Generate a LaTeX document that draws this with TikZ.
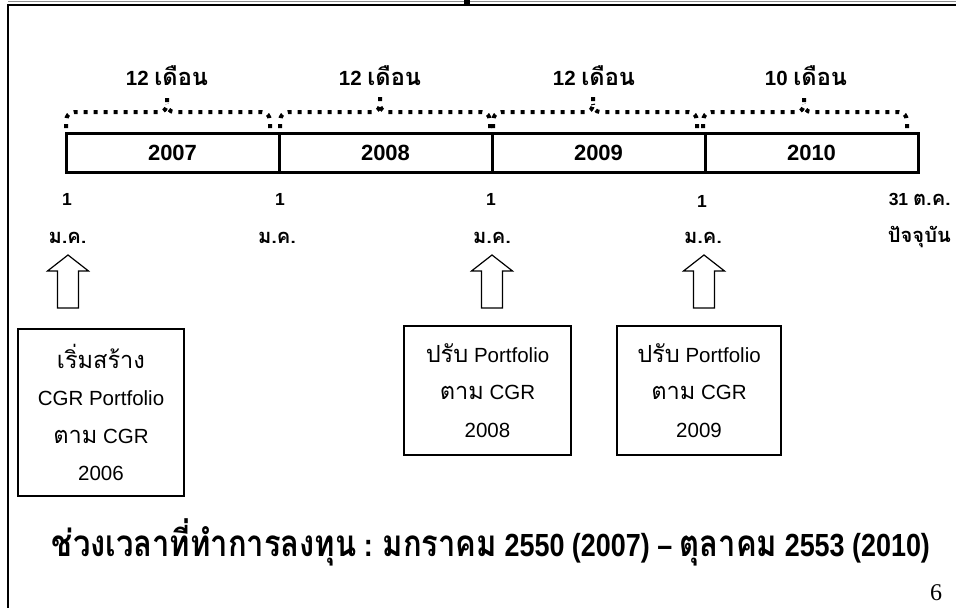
\documentclass[tikz,border=0pt]{standalone}
\usepackage{fontspec}
\setmainfont{Liberation Sans}
\newfontfamily\thaifont[Script=Thai,Scale=1.15]{Loma}
\newfontfamily\pgserif{Liberation Serif}
\newcommand\thx[1]{{\thaifont #1}}
\tikzset{
  yearcell/.style={draw, line width=3pt, minimum width=213pt, minimum height=39pt, inner sep=0pt,
    font=\fontsize{22}{26}\selectfont\bfseries},
  monthlbl/.style={anchor=base, inner sep=0pt, font=\fontsize{20.5}{24}\selectfont\bfseries},
  datelbl/.style={anchor=base, inner sep=0pt, font=\fontsize{17.5}{20}\selectfont\bfseries},
  dotbrace/.style={line width=4pt, dash pattern=on 4pt off 6pt},
  infobox/.style={draw, line width=2.5pt, align=center, inner sep=0pt,
    font=\fontsize{20.5}{37.5}\selectfont},
  hollowarrow/.style={draw, line width=1.2pt, fill=white}
}
\newcommand\uparr[2]{\draw[hollowarrow] (#1,#2) -- ++(-20.5,16) -- ++(10,0) -- ++(0,37) -- ++(21,0) -- ++(0,-37) -- ++(10,0) -- cycle;}
% brace: left end, tip x, right end
\newcommand\dbrace[3]{\draw[dotbrace] (#1,128) -- (#1,121) to[out=90,in=180] (#1+8,112) -- (#2-7,112) to[out=0,in=-90] (#2,104) -- (#2,93);
  \draw[dotbrace] (#3,128) -- (#3,121) to[out=90,in=0] (#3-8,112) -- (#2+7,112) to[out=180,in=-90] (#2,104);}
\begin{document}
\begin{tikzpicture}[x=1pt,y=-1pt]
\useasboundingbox (0,0) rectangle (956,608);
% frame
\draw[line width=0.8pt, black!45] (8,1) -- (956,1);
\draw[line width=2.5pt] (8,5) -- (956,5);
\draw[line width=2.5pt] (8,4) -- (8,608);
\fill (464,0) rectangle (470,6);
% year bar
\node[yearcell] (y1) at (172.5,153) {2007};
\node[yearcell] (y2) at (385.5,153) {2008};
\node[yearcell] (y3) at (598.5,153) {2009};
\node[yearcell] (y4) at (811.5,153) {2010};
% braces
\dbrace{66}{167}{270}
\dbrace{280}{380}{490}
\dbrace{493}{593}{697}
\dbrace{703}{804}{907}
\node[monthlbl] (m1) at (167,85) {12 \thx{เดือน}};
\node[monthlbl] (m2) at (380,85) {12 \thx{เดือน}};
\node[monthlbl] (m3) at (594,85) {12 \thx{เดือน}};
\node[monthlbl] (m4) at (806,85) {10 \thx{เดือน}};
% dates
\node[datelbl] (d1) at (67,205) {1};
\node[datelbl] (d2) at (280,205) {1};
\node[datelbl] (d3) at (491,205) {1};
\node[datelbl] (d4) at (702,207) {1};
\node[datelbl, anchor=base east] (d5) at (951,205) {31 \thx{ต.ค.}};
\node[datelbl] (j1) at (67.5,243) {\thx{ม.ค.}};
\node[datelbl] (j2) at (277,243) {\thx{ม.ค.}};
\node[datelbl] (j3) at (492,243) {\thx{ม.ค.}};
\node[datelbl] (j4) at (703,243) {\thx{ม.ค.}};
\node[datelbl, anchor=base east] (j5) at (951,242) {\thx{ปัจจุบัน}};
% arrows
\uparr{68}{255}
\uparr{492}{255}
\uparr{704}{255}
% boxes
\node[infobox, minimum width=166pt, minimum height=167pt] (b1) at (101,412.5)
  {\thx{เริ่มสร้าง}\\CGR Portfolio\\\thx{ตาม} CGR\\2006};
\node[infobox, minimum width=167pt, minimum height=129pt] (b2) at (487.5,390.5)
  {\thx{ปรับ} Portfolio\\\thx{ตาม} CGR\\2008};
\node[infobox, minimum width=164pt, minimum height=129pt] (b3) at (699,390.5)
  {\thx{ปรับ} Portfolio\\\thx{ตาม} CGR\\2009};
% bottom line
\node[anchor=base, inner sep=0pt, font=\fontsize{32}{35}\selectfont\bfseries] (title) at (491,556)
  {\resizebox{878pt}{\height}{\thx{ช่วงเวลาที่ทำการลงทุน} : \thx{มกราคม} 2550 (2007) – \thx{ตุลาคม} 2553 (2010)}};
\node[anchor=base, inner sep=0pt, font=\pgserif\fontsize{24}{28}\selectfont] (pg) at (936,600) {6};
\end{tikzpicture}
\end{document}
